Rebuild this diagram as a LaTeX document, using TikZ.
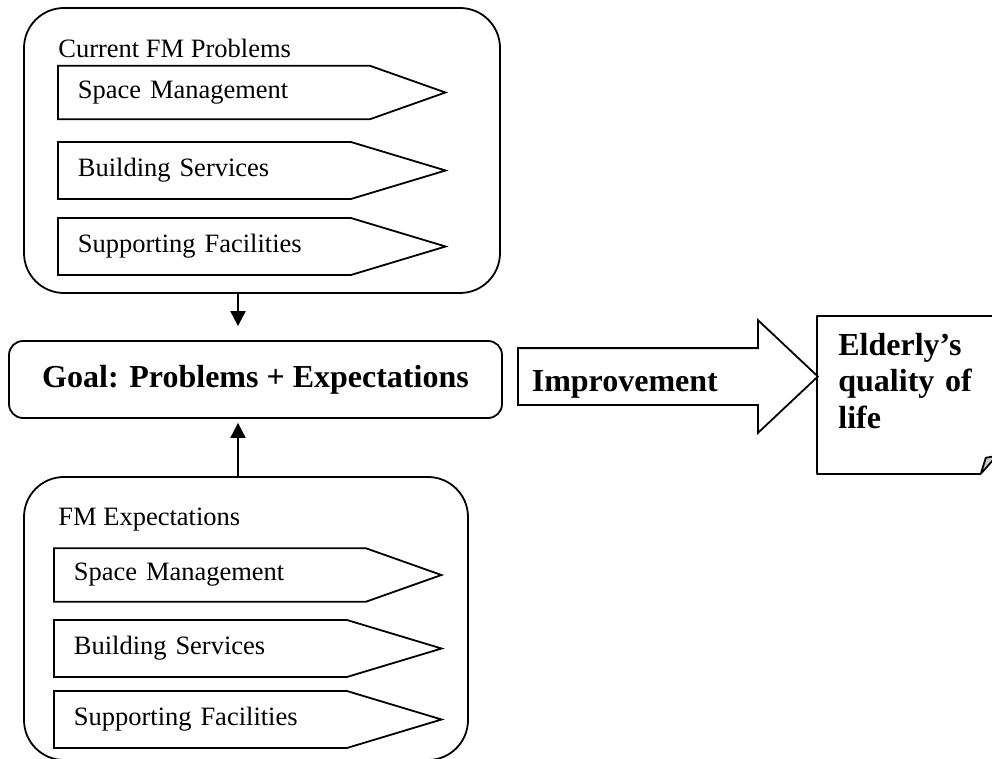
\documentclass[tikz,border=0pt]{standalone}
\usepackage{fontspec}
\setmainfont{Liberation Serif}
\usetikzlibrary{arrows.meta,positioning,shapes.symbols,shapes.arrows}
\newcommand{\itemfont}{\fontsize{13.25}{15.9}\selectfont}
\newcommand{\headfont}{\fontsize{16}{18.25}\selectfont\bfseries}
\tikzset{%
	groupbox/.style   = {draw, rectangle, rounded corners=20pt, line width=0.9pt}, % outer group
	grouptitle/.style = {anchor=base west, font=\itemfont, inner sep=0pt},
	itembox/.style    = {draw, signal, signal to=east, line width=0.9pt, anchor=west, font=\itemfont, align=left, inner xsep=10pt, inner ysep=0pt},
	itemtop/.style    = {itembox, signal pointer angle=39, text width=136pt, minimum height=26.75pt},
	itemrest/.style   = {itembox, signal pointer angle=33.5, text width=126.5pt, minimum height=28.5pt},
	goalbox/.style    = {draw, rectangle, rounded corners=7pt, line width=0.9pt, font=\headfont},
	bigarrow/.style   = {draw, single arrow, single arrow head extend=14pt, single arrow tip angle=86.5, line width=0.9pt, anchor=west, font=\headfont, align=left, text width=121pt, inner xsep=6.5pt, inner ysep=0pt, text height=21pt, text depth=6.5pt},
	notebox/.style    = {rectangle, anchor=north west, font=\headfont, align=left, text width=68.5pt, inner xsep=10.5pt, inner ysep=0pt, text height=19.5pt, text depth=59pt},
	noteline/.style   = {line width=0.9pt, line join=round},
	arrow/.style      = {line width=1pt, -{Triangle[width=7.5pt,length=7.5pt]}},
}
\begin{document}
\begin{tikzpicture}[x=0.5pt,y=-0.5pt]
	\useasboundingbox (0,0) rectangle (992,759);
	% current problems
	\node [groupbox,minimum width=238pt,minimum height=142.5pt] (probbox) at (262,150.5) {};
	\node [grouptitle] (probtitle) at (58,58) {Current FM Problems};
	\node [itemtop] (probspace) at (57,92.5) {Space Management};
	\node [itemrest] (probbuild) at (57,170.5) {Building Services};
	\node [itemrest] (probsupp) at (57,246.5) {Supporting Facilities};
	% expectations
	\node [groupbox,minimum width=222pt,minimum height=141.5pt] (expbox) at (246,618.5) {};
	\node [grouptitle] (exptitle) at (58,526) {FM Expectations};
	\node [itemtop] (expspace) at (53,575) {Space Management};
	\node [itemrest] (expbuild) at (53,648.5) {Building Services};
	\node [itemrest] (expsupp) at (53,719.5) {Supporting Facilities};
	% goal and result
	\node [goalbox,minimum width=246.5pt,minimum height=38.5pt] (goal) at (255.5,379.5) {Goal: Problems + Expectations};
	\node [bigarrow] (impr) at (517,376.5) {Improvement};
	\node [notebox] (life) at (817,316) {Elderly’s\\quality of\\life};
	\draw [noteline] ([xshift=-8pt]life.south east) -- (life.south west) -- (life.north west) -- (life.north east);
	\draw [noteline,fill=gray!40] ([xshift=-8pt]life.south east) -- ([shift={(-5.5pt,8pt)}]life.south east) -- ([yshift=9pt]life.south east) -- cycle;
	
	\coordinate (probfoot) at ([xshift=-12pt]probbox.south);
	\coordinate (exphead) at ([xshift=-4pt]expbox.north);
	\draw [arrow,shorten >=7pt] (probfoot) -- (probfoot |- goal.north);
	\draw [arrow,shorten >=2pt] (exphead) -- (exphead |- goal.south);
\end{tikzpicture}
\end{document}
